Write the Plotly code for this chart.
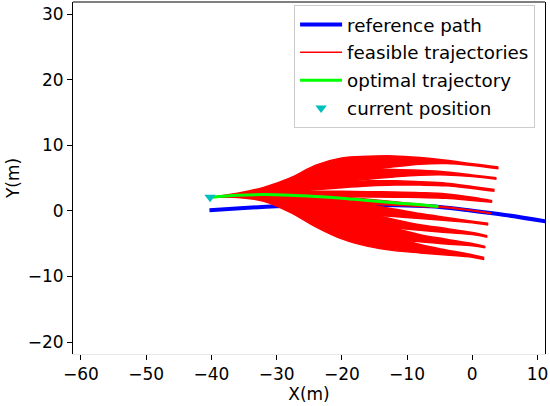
import plotly.graph_objects as go

# ---------------- data ----------------
# reference path
REF_X = [-40.3, -35, -30, -25, -20, -15, -10, -5, 0, 5, 12]
REF_Y = [0.12, 0.45, 0.72, 0.9, 0.98, 0.95, 0.82, 0.62, 0.05, -0.6, -1.7]

# feasible trajectories: for each of 9 lateral targets, the fastest and the
# slowest lane-change of the family, sampled at common x stations + end point
XS = [-40, -36, -32, -28, -24, -20, -16, -12, -8, -4, 0]
END_X = [4.0, 3.7, 3.4, 3.05, 2.9, 2.44, 2.3, 2.0, 1.83]

FAST_1 = [2.1, 2.7, 3.6, 5.0, 7.0, 8.1, 8.35, 8.4, 8.15, 7.75, 7.2, 6.72]
SLOW_1 = [2.1, 2.4, 2.85, 3.5, 4.45, 5.4, 6.2, 6.75, 7.15, 7.25, 6.95, 6.45]
FAST_2 = [2.1, 2.55, 3.25, 4.2, 5.5, 6.2, 6.35, 6.35, 6.2, 5.95, 5.5, 5.07]
SLOW_2 = [2.1, 2.38, 2.7, 3.15, 3.75, 4.4, 4.85, 5.2, 5.45, 5.5, 5.25, 4.85]
FAST_3 = [2.1, 2.45, 2.9, 3.5, 4.15, 4.5, 4.6, 4.6, 4.45, 4.25, 3.75, 3.3]
SLOW_3 = [2.1, 2.36, 2.65, 2.95, 3.25, 3.55, 3.8, 3.95, 3.95, 3.85, 3.45, 3.02]
FAST_4 = [2.1, 2.4, 2.7, 2.9, 3.0, 3.0, 2.95, 2.9, 2.8, 2.6, 2.1, 1.57]
SLOW_4 = [2.1, 2.3, 2.45, 2.45, 2.35, 2.2, 2.15, 2.1, 2.05, 1.95, 1.6, 1.32]
FAST_5 = [2.1, 2.29, 2.36, 2.2, 1.77, 1.34, 1.07, 0.87, 0.7, 0.5, 0.05, -0.4]
SLOW_5 = [2.1, 2.42, 2.56, 2.55, 2.4, 2.15, 1.8, 1.4, 1.02, 0.6, 0.12, -0.3]
FAST_6 = [2.1, 2.24, 2.15, 1.68, 0.74, -0.11, -0.58, -0.86, -1.15, -1.45, -1.8, -2.14]
SLOW_6 = [2.1, 2.31, 2.45, 2.39, 2.05, 1.5, 0.95, 0.3, -0.4, -0.98, -1.55, -1.88]
FAST_7 = [2.1, 2.19, 1.94, 1.15, -0.3, -1.57, -2.22, -2.6, -2.95, -3.3, -3.6, -4.0]
SLOW_7 = [2.1, 2.3, 2.38, 2.2, 1.63, 0.69, -0.35, -1.28, -2.09, -2.67, -3.29, -3.77]
FAST_8 = [2.1, 2.13, 1.73, 0.63, -1.33, -3.02, -3.87, -4.33, -4.7, -5.05, -5.3, -5.6]
SLOW_8 = [2.1, 2.28, 2.31, 2.0, 1.21, -0.05, -1.4, -2.59, -3.61, -4.3, -4.98, -5.4]
FAST_9 = [2.1, 2.05, 1.5, -0.15, -2.4, -4.25, -5.4, -6.05, -6.4, -6.7, -7.05, -7.4]
SLOW_9 = [2.1, 2.26, 2.24, 1.81, 0.79, -0.78, -2.45, -3.9, -5.13, -5.96, -6.68, -7.1]

FAST = [FAST_1, FAST_2, FAST_3, FAST_4, FAST_5, FAST_6, FAST_7, FAST_8, FAST_9]
SLOW = [SLOW_1, SLOW_2, SLOW_3, SLOW_4, SLOW_5, SLOW_6, SLOW_7, SLOW_8, SLOW_9]

# optimal trajectory
OPT_X = [-40, -36, -32, -28, -24, -20, -16, -12, -8, -5.2]
OPT_Y = [2.1, 2.4, 2.5, 2.42, 2.22, 1.95, 1.6, 1.25, 0.95, 0.68]

# current position
POS_X = [-40.2]
POS_Y = [2.1]

X_TICKS = [-60, -50, -40, -30, -20, -10, 0, 10]
Y_TICKS = [-20, -10, 0, 10, 20, 30]
X_RANGE = [-61.22, 11.15]
Y_RANGE = [-21.83, 31.9]

FONT = "DejaVu Sans"
FS = 17
FS_LEG = 18.3
RED = "#ff0000"
TXT = "#000000"

# ---------------- figure ----------------
fig = go.Figure()

fig.add_trace(go.Scatter(
    x=REF_X, y=REF_Y, mode="lines", name="reference path",
    line=dict(color="#0000ff", width=4, shape="spline"), legendgroup="a",
))

for i in range(len(FAST)):
    xs = XS + [END_X[i]]
    fig.add_trace(go.Scatter(
        x=xs, y=FAST[i], mode="lines", name="feasible trajectories",
        line=dict(color=RED, width=1.5, shape="spline"), legendgroup="b",
        showlegend=(i == 0), hoverinfo="skip",
    ))
    fig.add_trace(go.Scatter(
        x=xs, y=SLOW[i], mode="lines", name="feasible trajectories",
        line=dict(color=RED, width=1.5, shape="spline"), fill="tonexty",
        fillcolor=RED, legendgroup="b", showlegend=False, hoverinfo="skip",
    ))

fig.add_trace(go.Scatter(
    x=OPT_X, y=OPT_Y, mode="lines", name="optimal trajectory",
    line=dict(color="#00ff00", width=3, shape="spline"), legendgroup="c",
))

fig.add_trace(go.Scatter(
    x=POS_X, y=POS_Y, mode="markers", name="current position",
    marker=dict(symbol="triangle-down", color="#00bfbf", size=10,
                line=dict(width=0)),
    legendgroup="d",
))

axis_common = dict(
    showgrid=False, zeroline=False, ticks="outside", ticklen=5,
    tickwidth=1, tickcolor="black", ticklabeloverflow="allow",
    tickfont=dict(family=FONT, size=FS, color=TXT),
)

fig.update_layout(
    width=550, height=406,
    margin=dict(l=73, r=3, t=2, b=52),
    paper_bgcolor="white", plot_bgcolor="white",
    font=dict(family=FONT, size=FS, color=TXT),
    xaxis=dict(range=X_RANGE, tickvals=X_TICKS, showline=True,
               linecolor="#e8e8e8", linewidth=1, mirror=False,
               title=dict(text="X(m)", font=dict(family=FONT, size=FS), standoff=2),
               **axis_common),
    yaxis=dict(range=Y_RANGE, tickvals=Y_TICKS, showline=True,
               linecolor="black", linewidth=1, mirror=True,
               title=dict(text="Y(m)", font=dict(family=FONT, size=FS), standoff=3),
               **axis_common),
    showlegend=True,
    legend=dict(
        x=0.979, xanchor="right", y=0.991, yanchor="top",
        bgcolor="rgba(255,255,255,0.8)", bordercolor="#cccccc", borderwidth=1,
        font=dict(family=FONT, size=FS_LEG, color=TXT),
        traceorder="grouped", tracegroupgap=1, itemwidth=42,
    ),
    shapes=[dict(type="line", xref="paper", yref="paper", x0=0, x1=1, y0=1, y1=1,
                 line=dict(color="black", width=1))],
)

fig.write_html("out.html", config={"displayModeBar": False},
               post_script="document.body.style.margin='0px';")
